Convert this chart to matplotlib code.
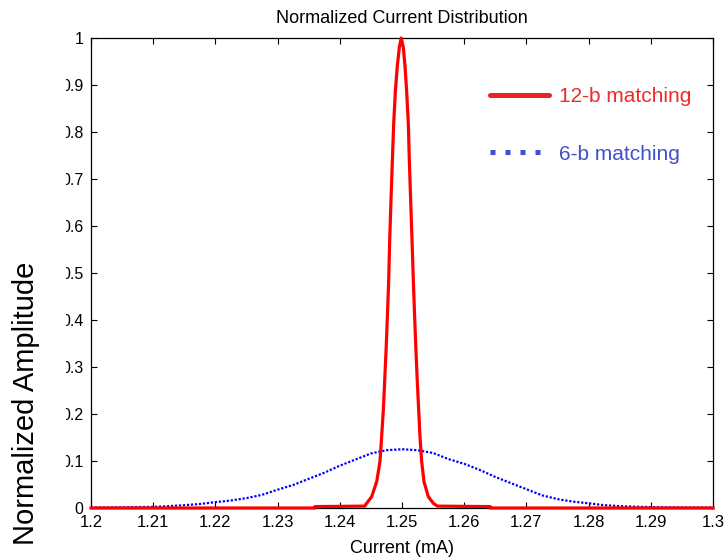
import matplotlib
matplotlib.use("Agg")
import matplotlib.pyplot as plt
from matplotlib.lines import Line2D
from matplotlib.patches import Rectangle

plt.rcParams['font.family'] = ['Liberation Sans', 'DejaVu Sans']

# 12-b matching
red_x = [1.2000, 1.2360, 1.2360, 1.2440, 1.24432, 1.24512, 1.24593, 1.24646,
         1.24673, 1.24700, 1.24721, 1.24743, 1.24764, 1.24786, 1.24802, 1.24823,
         1.24845, 1.24866, 1.24893, 1.24925, 1.24957, 1.24987, 1.25021, 1.25048,
         1.25075, 1.25102, 1.25118, 1.25139, 1.25161, 1.25182, 1.25204, 1.25225,
         1.25246, 1.25268, 1.25289, 1.25316, 1.25354, 1.25423, 1.25504, 1.2557,
         1.2642, 1.2642, 1.3000]
red_y = [0.0, 0.0, 0.003, 0.004, 0.010, 0.024, 0.056, 0.099,
         0.152, 0.209, 0.269, 0.333, 0.404, 0.485, 0.570, 0.655,
         0.739, 0.817, 0.886, 0.941, 0.980, 1.000, 0.980, 0.941,
         0.886, 0.817, 0.739, 0.655, 0.570, 0.485, 0.404, 0.333,
         0.269, 0.209, 0.152, 0.099, 0.056, 0.024, 0.010, 0.004,
         0.003, 0.0, 0.0]

# 6-b matching
blue_x = [1.2000, 1.2025, 1.2050, 1.2075, 1.2100, 1.2125, 1.2150, 1.2175,
          1.2200, 1.2225, 1.2250, 1.2275, 1.2300, 1.2325, 1.2350, 1.2375,
          1.2400, 1.2425, 1.2450, 1.2475, 1.2500, 1.2525, 1.2550, 1.2575,
          1.2600, 1.2625, 1.2650, 1.2675, 1.2700, 1.2725, 1.2750, 1.2775,
          1.2800, 1.2825, 1.2850, 1.2875, 1.2900, 1.2925, 1.2950, 1.2975,
          1.3000]
blue_y = [0.0010, 0.0012, 0.0015, 0.0020, 0.0025, 0.0040, 0.0060, 0.0085,
          0.0125, 0.0160, 0.0210, 0.0280, 0.0390, 0.0490, 0.0620, 0.0750,
          0.0900, 0.1030, 0.1160, 0.1230, 0.1250, 0.1230, 0.1170, 0.1040,
          0.0940, 0.0810, 0.0660, 0.0530, 0.0400, 0.0270, 0.0190, 0.0135,
          0.0100, 0.0060, 0.0040, 0.0028, 0.0020, 0.0014, 0.0012, 0.0010,
          0.0010]

x_ticks = [1.2, 1.21, 1.22, 1.23, 1.24, 1.25, 1.26, 1.27, 1.28, 1.29, 1.3]
x_labels = ['1.2', '1.21', '1.22', '1.23', '1.24', '1.25', '1.26', '1.27', '1.28', '1.29', '1.3']
y_ticks = [0, 0.1, 0.2, 0.3, 0.4, 0.5, 0.6, 0.7, 0.8, 0.9, 1]
y_labels = ['0', '0.1', '0.2', '0.3', '0.4', '0.5', '0.6', '0.7', '0.8', '0.9', '1']
series_names = ['12-b matching', '6-b matching']

fig = plt.figure(figsize=(7.28, 5.58), dpi=100)
ax = fig.add_axes([91/728, 50/558, 622/728, 470/558])

ax.plot(blue_x, blue_y, color='#0000ff', lw=1.6, ls=(0, (1, 0.8)), clip_on=False, zorder=2)
ax.plot(red_x, red_y, color='#ff0000', lw=2.3, clip_on=False, zorder=3)

ax.set_xlim(1.2, 1.3)
ax.set_ylim(0, 1)
ax.set_xticks(x_ticks)
ax.set_xticklabels(x_labels)
ax.set_yticks(y_ticks)
ax.set_yticklabels(y_labels)
ax.tick_params(direction='in', length=4.5, width=0.8, top=True, right=True)
ax.tick_params(axis='x', labelsize=12, pad=5)
ax.tick_params(axis='y', labelsize=11.5, pad=5.5)
for s in ax.spines.values():
    s.set_linewidth(0.9)

ax.set_title('Normalized Current Distribution', fontsize=13, pad=11)
ax.set_xlabel('Current (mA)', fontsize=13, labelpad=7)

# white strip hiding the leading zeros of the y tick labels, as in the source
fig.add_artist(Rectangle((0, 68/558), 66/728, 445/558, transform=fig.transFigure,
                         facecolor='white', edgecolor='none', zorder=5))
fig.text(26/728, 1 - 403/558, 'Normalized Amplitude', rotation=90, fontsize=21,
         ha='center', va='center', zorder=6)

handles = [Line2D([], [], color='#ee2024', lw=3.6, solid_capstyle='round'),
           Line2D([], [], color='#3f4fd0', lw=3.6, ls=(0, (1, 2)), dash_capstyle='butt')]
leg = fig.legend(handles, series_names, loc='upper left',
                 bbox_to_anchor=(490/728, 1 - 87/558), bbox_transform=fig.transFigure,
                 frameon=False, fontsize=15, handlelength=2.84, handletextpad=0.45,
                 labelspacing=1.85, borderpad=0, borderaxespad=0,
                 labelcolor=['#ee2a2a', '#4050cc'])

fig.savefig('out.png', dpi=100)
